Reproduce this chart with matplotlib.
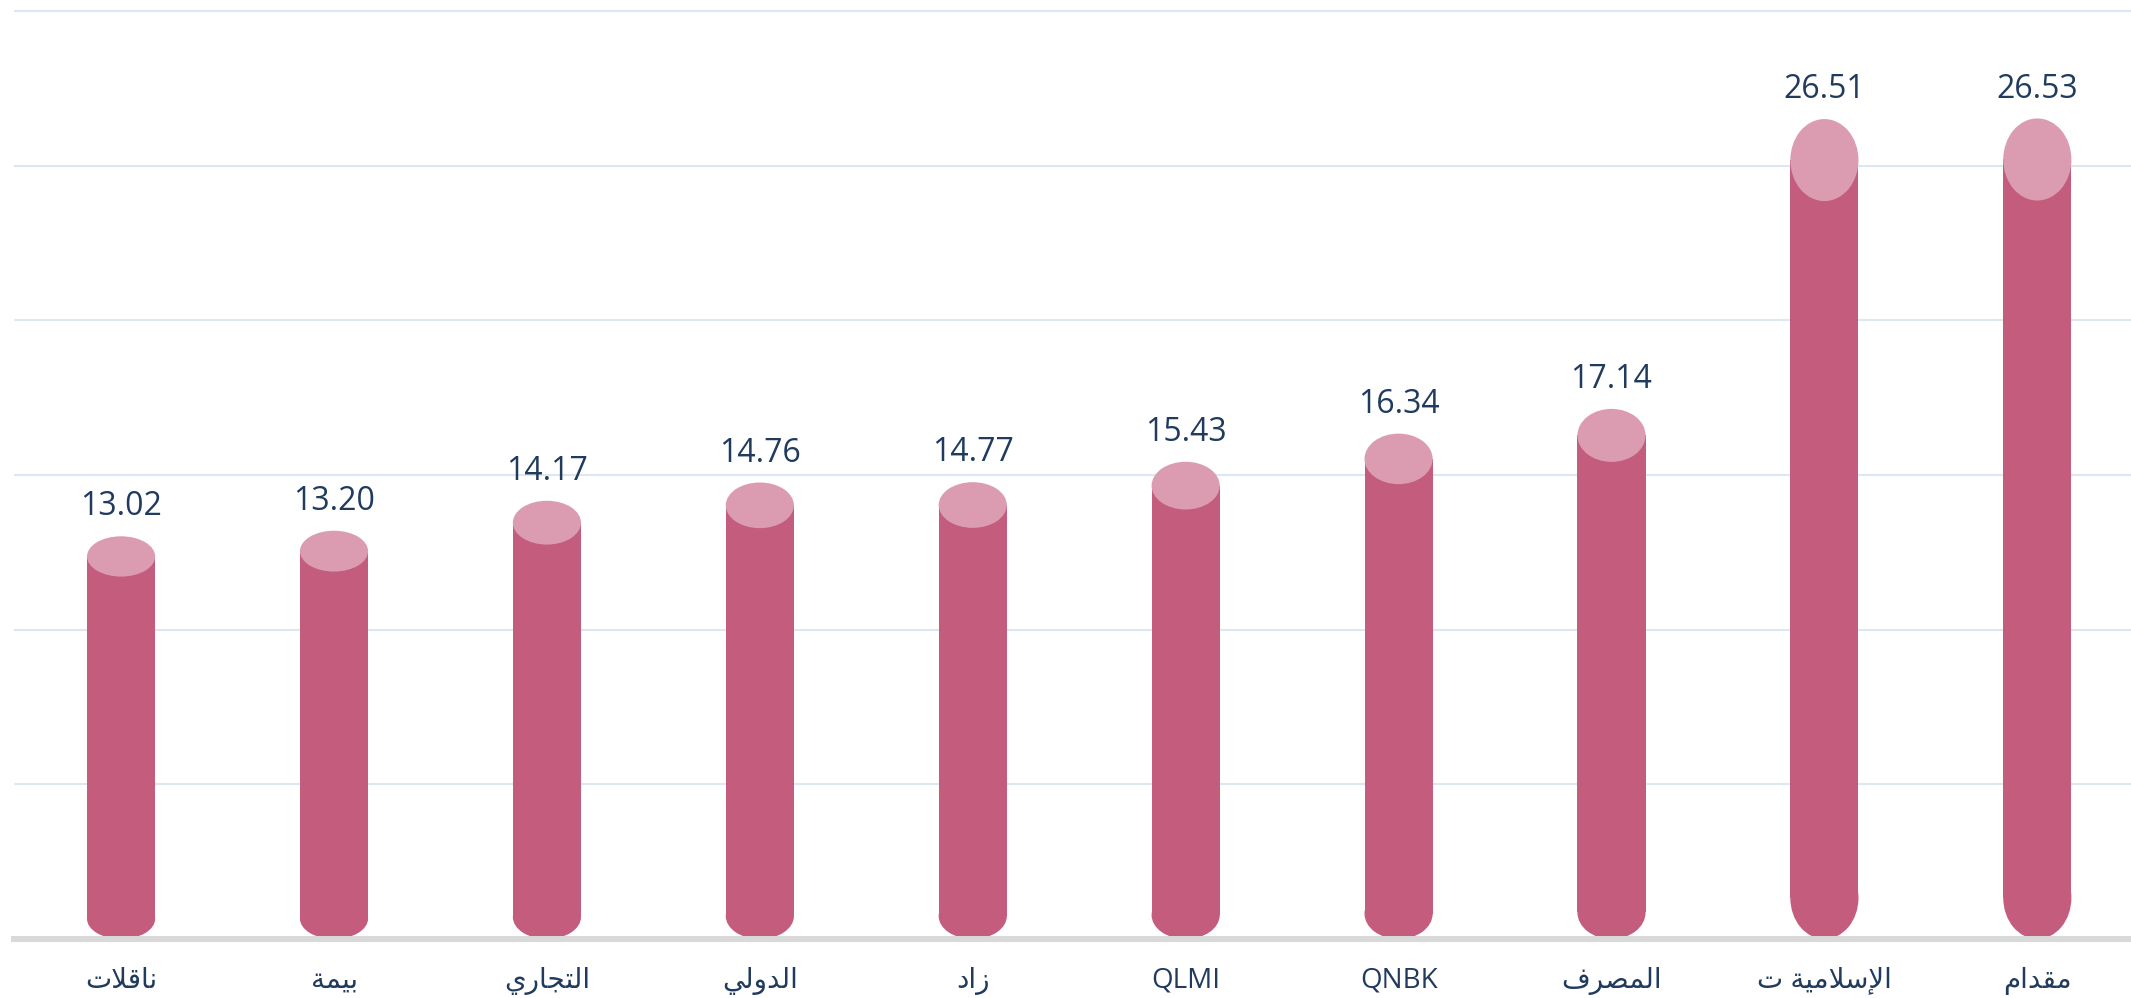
"""
Cylinder-style bar chart: values per company, sorted ascending.
Arabic labels are shaped by hand (presentation forms + visual order),
since matplotlib has no text shaping.
"""
import matplotlib
matplotlib.use("Agg")
import matplotlib.pyplot as plt
from matplotlib.patches import Ellipse
import numpy as np

CATEGORIES = ["ناقلات", "بيمة", "التجاري", "الدولي", "زاد",
              "QLMI", "QNBK", "المصرف", "الإسلامية ت", "مقدام"]
VALUES = [13.02, 13.20, 14.17, 14.76, 14.77, 15.43, 16.34, 17.14, 26.51, 26.53]
Y_TICKS = [0, 5, 10, 15, 20, 25, 30]

BODY_COLOR = "#C45C7E"
TOP_COLOR = "#DB9CB1"
TEXT_COLOR = "#203B5E"
GRID_COLOR = "#DDE7F2"
BASE_COLOR = "#D9D9D9"

# isolated, final, initial, medial
FORMS = {
    "ا": (0xFE8D, 0xFE8E, None, None),
    "إ": (0xFE87, 0xFE88, None, None),
    "ب": (0xFE8F, 0xFE90, 0xFE91, 0xFE92),
    "ة": (0xFE93, 0xFE94, None, None),
    "ت": (0xFE95, 0xFE96, 0xFE97, 0xFE98),
    "ج": (0xFE9D, 0xFE9E, 0xFE9F, 0xFEA0),
    "د": (0xFEA9, 0xFEAA, None, None),
    "ر": (0xFEAD, 0xFEAE, None, None),
    "ز": (0xFEAF, 0xFEB0, None, None),
    "س": (0xFEB1, 0xFEB2, 0xFEB3, 0xFEB4),
    "ص": (0xFEB9, 0xFEBA, 0xFEBB, 0xFEBC),
    "ف": (0xFED1, 0xFED2, 0xFED3, 0xFED4),
    "ق": (0xFED5, 0xFED6, 0xFED7, 0xFED8),
    "ل": (0xFEDD, 0xFEDE, 0xFEDF, 0xFEE0),
    "م": (0xFEE1, 0xFEE2, 0xFEE3, 0xFEE4),
    "ن": (0xFEE5, 0xFEE6, 0xFEE7, 0xFEE8),
    "و": (0xFEED, 0xFEEE, None, None),
    "ي": (0xFEF1, 0xFEF2, 0xFEF3, 0xFEF4),
}
LAM_ALEF = {"ا": (0xFEFB, 0xFEFC), "إ": (0xFEF9, 0xFEFA)}


def shape_arabic(text):
    if not any(ch in FORMS for ch in text):
        return text
    tokens = []
    i = 0
    while i < len(text):
        ch = text[i]
        if ch == "ل" and i + 1 < len(text) and text[i + 1] in LAM_ALEF:
            tokens.append(("la", text[i + 1]))
            i += 2
        else:
            tokens.append(("ch", ch))
            i += 1
    out = []
    for k, (kind, ch) in enumerate(tokens):
        prev = tokens[k - 1] if k > 0 else None
        nxt = tokens[k + 1] if k + 1 < len(tokens) else None
        joins_prev = (prev is not None and prev[0] == "ch"
                      and prev[1] in FORMS and FORMS[prev[1]][2] is not None)
        if kind == "la":
            out.append(chr(LAM_ALEF[ch][1 if joins_prev else 0]))
            continue
        if ch not in FORMS:
            out.append(ch)
            continue
        iso, fin, ini, med = FORMS[ch]
        joins_next = (ini is not None and nxt is not None
                      and (nxt[0] == "la" or nxt[1] in FORMS))
        if joins_prev and joins_next:
            form = med
        elif joins_prev:
            form = fin
        elif joins_next:
            form = ini
        else:
            form = iso
        out.append(chr(form))
    return "".join(reversed(out))


fig = plt.figure(figsize=(21.31, 9.98), dpi=100)
ax = fig.add_axes([14 / 2131, 59 / 998, 1 - 14 / 2131, 939 / 998])

x = np.arange(len(VALUES))
vals = np.array(VALUES)
bar_w = 0.32
cap = 0.1 * vals  # ellipse height in data units

ax.bar(x, vals - cap, bottom=cap / 2, width=bar_w, color=BODY_COLOR,
       linewidth=0, zorder=3)
for xi, v, c in zip(x, vals, cap):
    ax.add_patch(Ellipse((xi, c / 2), bar_w, c, color=BODY_COLOR, zorder=3, lw=0))
    ax.add_patch(Ellipse((xi, v - c / 2), bar_w, c, color=TOP_COLOR, zorder=4, lw=0))
    ax.annotate(f"{v:.2f}", xy=(xi, v), xytext=(0, 15), textcoords="offset points",
                ha="center", va="baseline", fontsize=23, color=TEXT_COLOR,
                family=["Open Sans", "DejaVu Sans"])

for xi, label in zip(x, CATEGORIES):
    ax.annotate(shape_arabic(label), xy=(xi, 0), xycoords=("data", "axes fraction"),
                xytext=(0, -30), textcoords="offset points", ha="center", va="center",
                fontsize=20, color=TEXT_COLOR, family=["Open Sans", "DejaVu Sans"],
                annotation_clip=False)

ax.set_xlim(-0.503, 9.44)
ax.set_ylim(0, 30.36)
ax.set_yticks(Y_TICKS[1:])
ax.yaxis.grid(True, color=GRID_COLOR, linewidth=1.5, zorder=0)
ax.set_axisbelow(True)
ax.tick_params(left=False, bottom=False, labelleft=False, labelbottom=False)
for side in ("top", "right", "left"):
    ax.spines[side].set_visible(False)
ax.spines["bottom"].set_color(BASE_COLOR)
ax.spines["bottom"].set_linewidth(4.3)
ax.spines["bottom"].set_zorder(5)

fig.savefig("out.png", dpi=100)
